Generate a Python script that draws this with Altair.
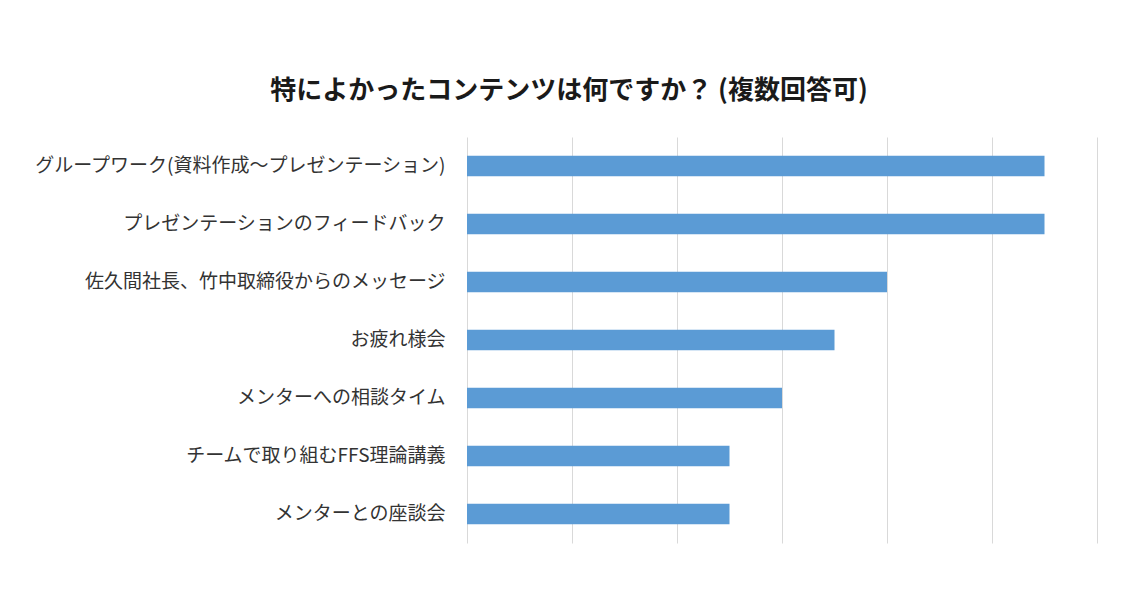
import altair as alt
import pandas as pd

categories = [
    "グループワーク(資料作成～プレゼンテーション)",
    "プレゼンテーションのフィードバック",
    "佐久間社長、竹中取締役からのメッセージ",
    "お疲れ様会",
    "メンターへの相談タイム",
    "チームで取り組むFFS理論講義",
    "メンターとの座談会",
]
values = [11, 11, 8, 7, 6, 5, 5]
x_ticks = [0, 2, 4, 6, 8, 10, 12]

df = pd.DataFrame({"item": categories, "count": values})

FONT = "Noto Sans CJK JP"

chart = (
    alt.Chart(df)
    .mark_bar(color="#5B9BD5")
    .encode(
        x=alt.X(
            "count:Q",
            scale=alt.Scale(domain=[0, 12], nice=False),
            axis=alt.Axis(
                values=x_ticks,
                labels=False,
                ticks=False,
                domain=False,
                grid=True,
                gridColor="#d9d9d9",
                gridWidth=1,
                title=None,
            ),
        ),
        y=alt.Y(
            "item:N",
            sort=categories,
            scale=alt.Scale(paddingInner=0.65),
            axis=alt.Axis(
                ticks=False,
                domain=False,
                labelFont=FONT,
                labelFontSize=19,
                labelColor="#333333",
                labelPadding=22,
                labelLimit=700,
                title=None,
            ),
        ),
    )
    .properties(
        width=630,
        height=406,
        background="white",
        autosize=alt.AutoSizeParams(type="none"),
        padding={"left": 459, "top": 129, "right": 30, "bottom": 40},
        title=alt.TitleParams(
            "特によかったコンテンツは何ですか？ (複数回答可)",
            font=FONT,
            fontSize=26,
            fontWeight="bold",
            color="#1a1a1a",
            anchor="middle",
            frame="group",
            dx=-213,
            offset=33,
        ),
    )
    .configure_view(strokeWidth=0)
)

chart.save("out.html", embed_options={"renderer": "svg", "actions": False})
